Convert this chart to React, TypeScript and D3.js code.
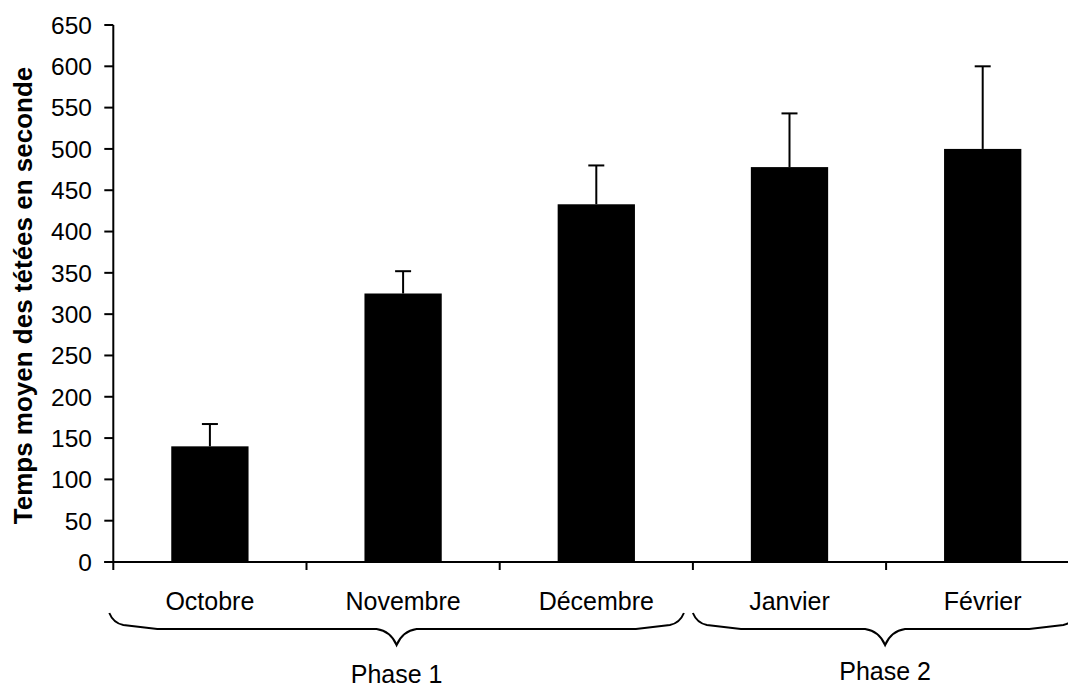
import React from "react";
import * as d3 from "d3";

const categories = ["Octobre", "Novembre", "Décembre", "Janvier", "Février"];
const means = [140, 325, 433, 478, 500];
const errors = [27, 27, 47, 65, 100];
const yTicks = [0, 50, 100, 150, 200, 250, 300, 350, 400, 450, 500, 550, 600, 650];
const phases = [
  { label: "Phase 1", from: 0, to: 3 },
  { label: "Phase 2", from: 3, to: 5 },
];
const yLabel = "Temps moyen des tétées en seconde";

const W = 1068;
const H = 685;
const FONT = "Arial, 'Liberation Sans', Helvetica, sans-serif";

export default function App() {
  const x0 = 113.3;
  const step = 193.2;
  const x = d3
    .scaleBand<string>()
    .domain(categories)
    .range([x0, x0 + step * categories.length])
    .paddingInner(0.6)
    .paddingOuter(0.3);
  const y = d3.scaleLinear().domain([0, 650]).range([562, 25]);
  const boundary = (i: number) => x.range()[0] + i * x.step();

  const bracePath = (x1: number, x2: number) => {
    const mid = (x1 + x2) / 2;
    const yEnd = 613;
    const yLine = 629;
    const yTip = 645;
    return [
      `M${x1},${yEnd}`,
      `Q${x1 + 4},${yEnd + 10} ${x1 + 14},${yEnd + 12}`,
      `L${x1 + 48},${yLine}`,
      `L${mid - 20},${yLine}`,
      `Q${mid - 6},${yLine + 2} ${mid},${yTip}`,
      `Q${mid + 6},${yLine + 2} ${mid + 20},${yLine}`,
      `L${x2 - 48},${yLine}`,
      `L${x2 - 14},${yEnd + 12}`,
      `Q${x2 - 4},${yEnd + 10} ${x2},${yEnd}`,
    ].join(" ");
  };

  const braceX = [
    [boundary(0) - 4, boundary(3) - 9],
    [boundary(3), boundary(5) - 2],
  ];
  const phaseTextY = [683, 680];

  return (
    <svg
      width={W}
      height={H}
      style={{ position: "absolute", left: 0, top: 0, background: "#fff" }}
      fontFamily={FONT}
    >
      <rect x={0} y={0} width={W} height={H} fill="#fff" />
      {categories.map((c, i) => {
        const cx = (x(c) as number) + x.bandwidth() / 2;
        return (
          <g key={c}>
            <rect
              x={x(c)}
              y={y(means[i])}
              width={x.bandwidth()}
              height={y(0) - y(means[i])}
              fill="#000"
            />
            <line
              x1={cx}
              x2={cx}
              y1={y(means[i])}
              y2={y(means[i] + errors[i])}
              stroke="#000"
              strokeWidth={2}
            />
            <line
              x1={cx - 8}
              x2={cx + 8}
              y1={y(means[i] + errors[i])}
              y2={y(means[i] + errors[i])}
              stroke="#000"
              strokeWidth={2}
            />
          </g>
        );
      })}
      <line x1={x0} x2={x0} y1={y(650)} y2={y(0)} stroke="#000" strokeWidth={2} />
      {yTicks.map((t) => (
        <g key={t}>
          <line x1={x0 - 9} x2={x0} y1={y(t)} y2={y(t)} stroke="#000" strokeWidth={2} />
          <text x={92} y={y(t)} dy="0.36em" textAnchor="end" fontSize={24.5} fill="#000">
            {t}
          </text>
        </g>
      ))}
      <line x1={x0 - 9} x2={boundary(5) + 20} y1={y(0)} y2={y(0)} stroke="#000" strokeWidth={2} />
      {d3.range(0, categories.length + 1).map((i) => (
        <line
          key={i}
          x1={boundary(i)}
          x2={boundary(i)}
          y1={y(0)}
          y2={y(0) + 8}
          stroke="#000"
          strokeWidth={2}
        />
      ))}
      {categories.map((c) => (
        <text
          key={c}
          x={(x(c) as number) + x.bandwidth() / 2}
          y={610}
          textAnchor="middle"
          fontSize={25}
          fill="#000"
        >
          {c}
        </text>
      ))}
      {phases.map((p, i) => {
        const [a, b] = braceX[i];
        return (
          <g key={p.label}>
            <path d={bracePath(a, b)} fill="none" stroke="#000" strokeWidth={2} />
            <text x={(a + b) / 2} y={phaseTextY[i]} textAnchor="middle" fontSize={25} fill="#000">
              {p.label}
            </text>
          </g>
        );
      })}
      <text
        transform={`translate(32,295.5) rotate(-90)`}
        textAnchor="middle"
        fontSize={26}
        fontWeight="bold"
        fill="#000"
      >
        {yLabel}
      </text>
    </svg>
  );
}
